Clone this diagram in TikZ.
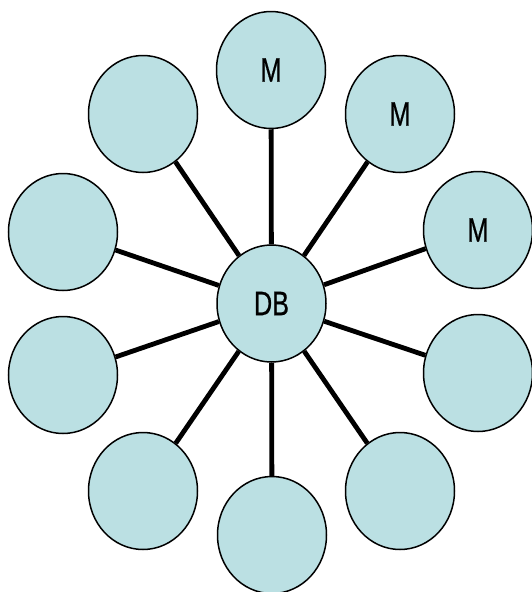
\documentclass[tikz,border=0pt]{standalone}
\usepackage{fontspec}
\setmainfont{Liberation Sans}[FakeStretch=0.74,FakeBold=0.6]
\usetikzlibrary{shapes.geometric}
\definecolor{nodefill}{RGB}{187,224,227}
\tikzset{
  bub/.style={ellipse, draw=black, line width=1.5pt, fill=nodefill,
    minimum width=109pt, minimum height=117pt, inner sep=0pt,
    font=\fontsize{34}{40}\selectfont},
  spoke/.style={line width=4.8pt, black}
}
\begin{document}
\begin{tikzpicture}[x=1pt,y=-1pt]
\useasboundingbox (0,0) rectangle (532,592);
\node[bub] (db) at (271.5,303.5) {DB};
\node[bub] (n1) at (271,70) {M};
\node[bub] (n2) at (400,114) {M};
\node[bub] (n3) at (478,230) {M};
\node[bub] (n4) at (478,373) {};
\node[bub] (n5) at (400,491) {};
\node[bub] (n6) at (272,535) {};
\node[bub] (n7) at (143,491) {};
\node[bub] (n8) at (63,375) {};
\node[bub] (n9) at (63,232) {};
\node[bub] (n10) at (143,114) {};
\foreach \n in {n1,n2,n3,n4,n5,n6,n7,n8,n9,n10}
  \draw[spoke] (db) -- (\n);
\end{tikzpicture}
\end{document}
